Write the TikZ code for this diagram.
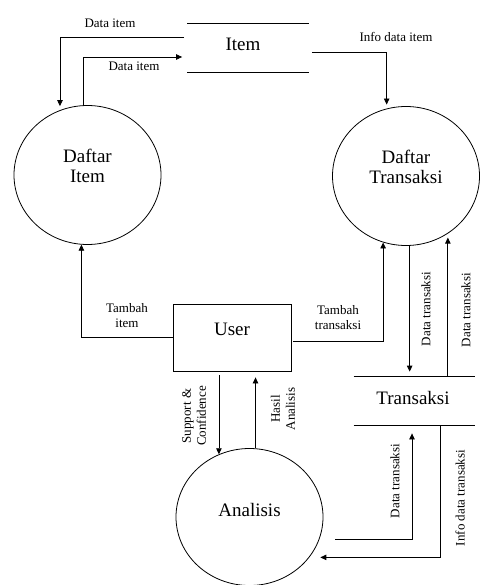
\documentclass[tikz,border=0pt]{standalone}
\usepackage{fontspec}
\setmainfont{Liberation Serif}
\usetikzlibrary{arrows.meta,shapes.geometric}
\begin{document}
\begin{tikzpicture}[x=1pt,y=-1pt,
  line width=0.8pt,
  arr/.style={-{Triangle[length=6pt,width=5.5pt]}},
  proc/.style={draw, ellipse, minimum width=147pt, minimum height=139pt, inner sep=0pt},
  store/.style={minimum width=121pt, minimum height=48pt, inner sep=0pt},
  ent/.style={draw, minimum width=118pt, minimum height=67pt, inner sep=0pt},
  big/.style={font=\fontsize{19}{20.5}\selectfont, align=center, inner sep=0pt},
  small/.style={font=\fontsize{13}{15}\selectfont, align=center, inner sep=0pt},
]
\useasboundingbox (0,0) rectangle (480,585);

% processes
\node[proc] (di) at (87.5,175) {};
\node[big] (ditxt) at ([yshift=9pt]di.center) {Daftar\\Item};
\node[proc] (dt) at (406,176) {};
\node[big] (dttxt) at ([yshift=9pt]dt.center) {Daftar\\Transaksi};
\node[proc, minimum height=137pt] (an) at (249.5,517) {};
\node[big] (antxt) at ([yshift=7pt]an.center) {Analisis};

% stores
\node[store] (item) at (248,48) {};
\draw (item.north west) -- (item.north east) (item.south west) -- (item.south east);
\node[big] (itemtxt) at ([yshift=3.5pt,xshift=-5pt]item.center) {Item};
\node[store] (tr) at (414.5,401) {};
\draw (tr.north west) -- (tr.north east) (tr.south west) -- (tr.south east);
\node[big] (trtxt) at ([yshift=3pt,xshift=-1.5pt]tr.center) {Transaksi};

% entity
\node[ent] (user) at (232,337.5) {};
\node[big] (usertxt) at ([yshift=8pt]user.center) {User};

% flows
\draw[arr, shorten >=4pt] ([xshift=-3pt,yshift=11pt]item.west) -| (di.113);
\draw[arr] (di.93) |- ([xshift=-5pt,yshift=-9pt]item.west);
\draw[arr, shorten >=4pt] ([xshift=3pt,yshift=-4pt]item.east) -| (dt.106);
\draw[arr] (user.west) -| (di.-95);
\draw[arr] ([xshift=2pt,yshift=-3.5pt]user.east) -| (dt.-109);
\draw[arr, shorten >=5pt] (dt.-87) -- (dt.-87 |- tr.north);
\draw[arr, shorten >=4pt] (dt.-54 |- tr.north) -- (dt.-54);
\draw[arr, shorten <=4pt] (an.116 |- user.south) -- (an.116);
\draw[arr, shorten >=6pt] (an.85) -- (an.85 |- user.south);
\draw[arr, shorten >=8pt] ([xshift=16pt]an.-18) -| ([xshift=-2.5pt]tr.south);
\draw[arr, shorten >=11pt] ([xshift=25.5pt]tr.south) |- (an.-34);

% labels
\node[small] (l1) at (110,23) {Data item};
\node[small] (l2) at (134,66.5) {Data item};
\node[small] (l3) at (396,37) {Info data item};
\node[small] (l4) at (127,316) {Tambah\\item};
\node[small] (l5) at (338,318) {Tambah\\transaksi};
\node[small, rotate=90] (l6) at (426,309) {Data transaksi};
\node[small, rotate=90] (l7) at (466,310) {Data transaksi};
\node[small, rotate=90] (l8) at (194,416) {Support \&\\Confidence};
\node[small, rotate=90] (l9) at (283,409) {Hasil\\Analisis};
\node[small, rotate=90] (l10) at (395,481) {Data transaksi};
\node[small, rotate=90] (l11) at (460,498) {Info data transaksi};
\end{tikzpicture}
\end{document}
